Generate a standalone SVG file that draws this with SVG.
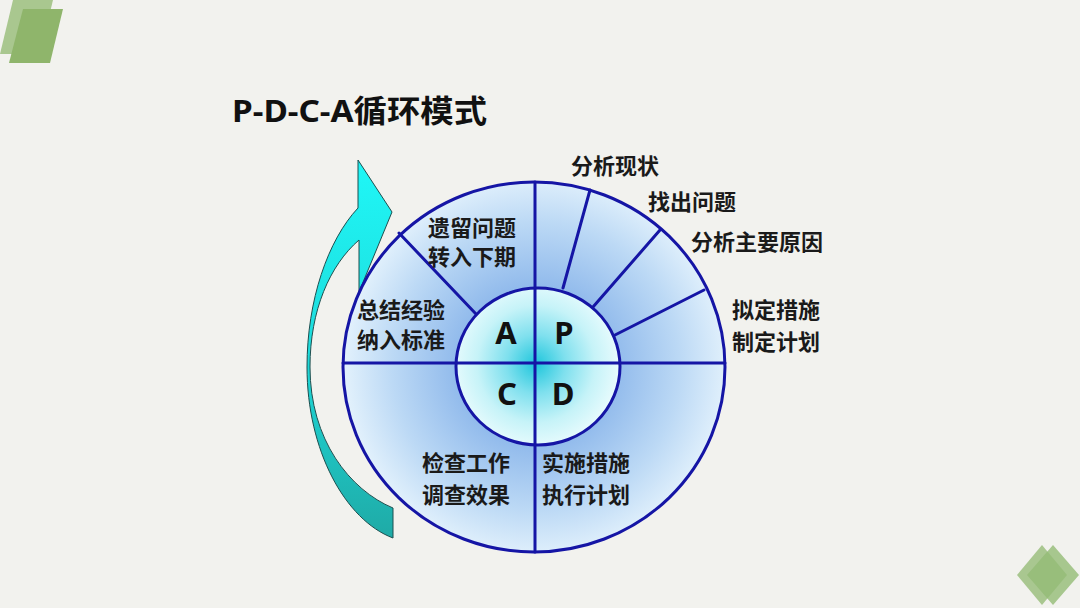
<svg xmlns="http://www.w3.org/2000/svg" width="1080" height="608" viewBox="0 0 1080 608">
<defs>
<linearGradient id="arrowGrad" x1="0" y1="0" x2="0" y2="1">
<stop offset="0" stop-color="#1ff7f7"/>
<stop offset="0.5" stop-color="#1edcdc"/>
<stop offset="1" stop-color="#1faaa6"/>
</linearGradient>
<radialGradient id="ringGrad" gradientUnits="userSpaceOnUse" cx="536" cy="366" r="192">
<stop offset="0" stop-color="#7eaee8"/>
<stop offset="0.42" stop-color="#92bbec"/>
<stop offset="0.75" stop-color="#bcd9f5"/>
<stop offset="1" stop-color="#e2f1fc"/>
</radialGradient>
<radialGradient id="coreGrad" gradientUnits="userSpaceOnUse" cx="536" cy="364" r="84">
<stop offset="0" stop-color="#1ec6dc"/>
<stop offset="0.35" stop-color="#7fe0ee"/>
<stop offset="0.7" stop-color="#c6f3f8"/>
<stop offset="1" stop-color="#e8fbfd"/>
</radialGradient>
<style>
.lbl{font-family:"Noto Sans CJK SC","Noto Sans",sans-serif;font-weight:700;font-size:22px;fill:#1a1a1a}
.big{font-family:"Noto Sans","Open Sans","Liberation Sans",sans-serif;font-weight:700;font-size:31px;fill:#111}
.ttl{font-family:"Noto Sans","Noto Sans CJK SC",sans-serif;font-weight:700;font-size:31px;fill:#111}
.div{stroke:#1515a5;stroke-width:3;fill:none;stroke-linecap:round}
</style>
</defs>
<rect width="1080" height="608" fill="#f2f2ee"/>
<g id="deco-topleft">
<polygon points="13,0 53,0 40,54 0,54" fill="#a9c78f"/>
<polygon points="23,9 63,9 50,63 9,63" fill="#8fb56b"/>
</g>
<g id="deco-bottomright">
<polygon points="1042,545 1067,575 1042,605 1017,575" fill="#9cc07f" fill-opacity="0.85"/>
<polygon points="1053,545 1079,575 1053,605 1027,575" fill="#94bb75" fill-opacity="0.8"/>
</g>
<g id="title">
<text class="ttl" x="232" y="122" textLength="255" lengthAdjust="spacingAndGlyphs">P-D-C-A循环模式</text>
</g>
<g id="cycle-arrow">
<path d="M358,208 L358,160 L392,212 L359,292 L359,240 C330,265 310,310 310,367 C310,440 350,490 393,508 L393,538 C345,520 307,450 307,367 C307,300 328,240 358,208 Z" fill="url(#arrowGrad)" stroke="#1d4f4f" stroke-width="1"/>
</g>
<g id="outer-circle">
<ellipse cx="534" cy="367" rx="191" ry="185" fill="url(#ringGrad)"/>
</g>
<g id="inner-circle">
<ellipse cx="538" cy="366.5" rx="82" ry="78.5" fill="url(#coreGrad)"/>
</g>
<g id="connectors">
<line class="div" x1="343" y1="363" x2="725" y2="363"/>
<line class="div" x1="535" y1="182" x2="535" y2="552"/>
<line class="div" x1="399" y1="233" x2="476" y2="314"/>
<line class="div" x1="590" y1="190" x2="563" y2="288"/>
<line class="div" x1="660" y1="230" x2="593" y2="307"/>
<line class="div" x1="704" y1="290" x2="615" y2="335"/>
<ellipse class="div" cx="538" cy="366.5" rx="82" ry="78.5"/>
<ellipse class="div" cx="534" cy="367" rx="191" ry="185"/>
</g>
<g id="node-A"><text class="big" x="506" y="344" text-anchor="middle">A</text></g>
<g id="node-P"><text class="big" x="564" y="344" text-anchor="middle">P</text></g>
<g id="node-C"><text class="big" x="507" y="405" text-anchor="middle">C</text></g>
<g id="node-D"><text class="big" x="563" y="405" text-anchor="middle">D</text></g>
<g id="label-analyze"><text class="lbl" x="571" y="174">分析现状</text></g>
<g id="label-find"><text class="lbl" x="648" y="210">找出问题</text></g>
<g id="label-cause"><text class="lbl" x="691" y="250">分析主要原因</text></g>
<g id="label-plan"><text class="lbl" x="732" y="318">拟定措施</text><text class="lbl" x="732" y="350">制定计划</text></g>
<g id="label-remain"><text class="lbl" x="428" y="236">遗留问题</text><text class="lbl" x="428" y="265">转入下期</text></g>
<g id="label-summary"><text class="lbl" x="357" y="318">总结经验</text><text class="lbl" x="357" y="348">纳入标准</text></g>
<g id="label-check"><text class="lbl" x="422" y="471">检查工作</text><text class="lbl" x="422" y="503">调查效果</text></g>
<g id="label-do"><text class="lbl" x="542" y="471">实施措施</text><text class="lbl" x="542" y="503">执行计划</text></g>
</svg>
